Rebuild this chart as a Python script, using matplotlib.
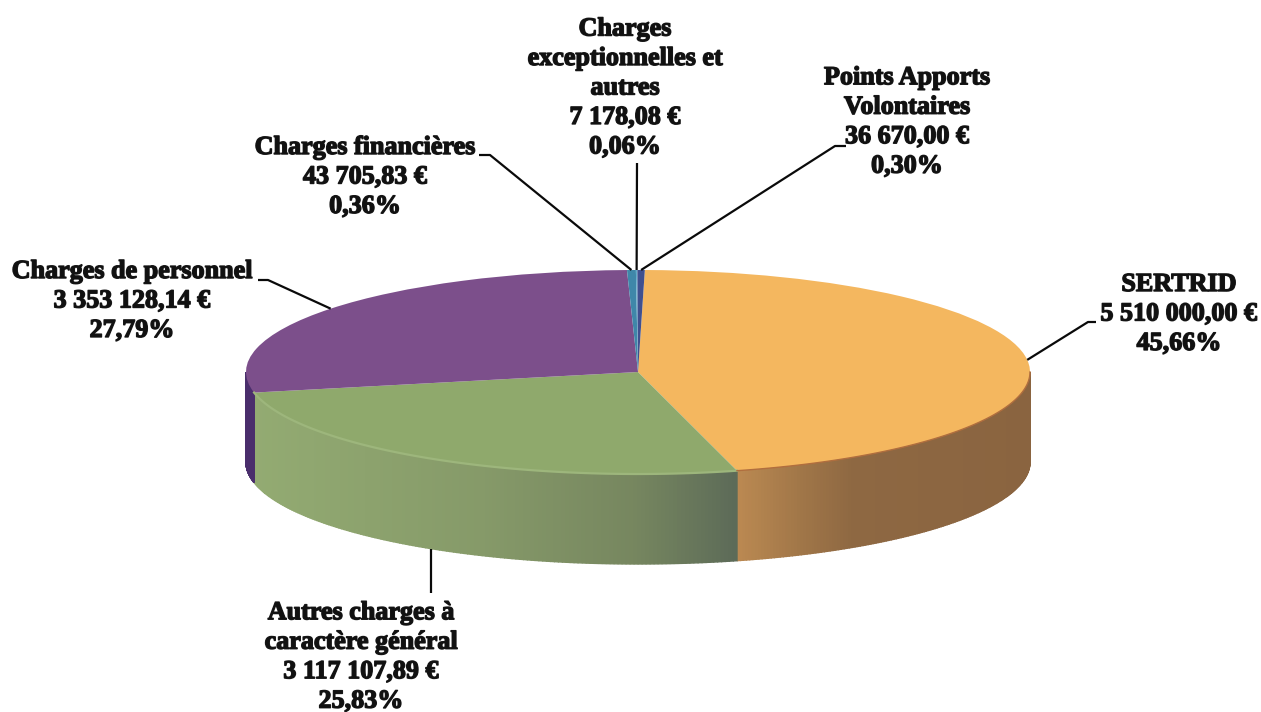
import numpy as np
import matplotlib
matplotlib.use("Agg")
import matplotlib.pyplot as plt
import matplotlib.patheffects as pe
from matplotlib.colors import to_rgb

W, H = 1261, 712

# ---- data ----
categories = ["SERTRID", "Autres charges à\ncaractère général", "Charges de personnel",
              "Charges financières", "Charges\nexceptionnelles et\nautres",
              "Points Apports\nVolontaires"]
values = [5510000.00, 3117107.89, 3353128.14, 43705.83, 7178.08, 36670.00]
value_labels = ["5 510 000,00 €", "3 117 107,89 €", "3 353 128,14 €",
                "43 705,83 €", "7 178,08 €", "36 670,00 €"]
pct_labels = ["45,66%", "25,83%", "27,79%", "0,36%", "0,06%", "0,30%"]

# ---- style ----
top_colors = ["#F4B75F", "#8FA96C", "#7C4F8B", "#3F87A9", "#62ABC9", "#40508F"]
# wall shading: (position across the pie from -1 to 1, colour)
wall_stops = {
    0: [(0.25, "#BC8A52"), (0.42, "#A07648"), (0.55, "#8E6842"), (1.0, "#8A6440")],
    1: [(-0.98, "#93AB72"), (-0.4, "#869A69"), (0.0, "#76865F"), (0.25, "#5D6B58")],
    2: [(-1.0, "#4A2E6C"), (-0.97, "#4A2E6C")],
}
CX, CY, RX, RY, DEPTH = 638, 372, 392, 102, 90
START = 89

fig = plt.figure(figsize=(W / 100, H / 100), dpi=100, facecolor="white")
ax = fig.add_axes([0, 0, 1, 1])
wedges, _ = ax.pie(values, colors=top_colors, startangle=START, counterclock=False,
                   radius=1, wedgeprops=dict(linewidth=0.4, edgecolor="none", zorder=3))
ax.set_aspect("auto")
ax.set_xlim(-CX / RX, (W - CX) / RX)
ax.set_ylim((CY - H) / RY, CY / RY)
ax.axis("off")
d = DEPTH / RY

# side walls, built from the same angular shares
shares = np.array(values) / np.sum(values) * 360
edges = START - np.concatenate([[0], np.cumsum(shares)])
for i, (a0, a1) in enumerate(zip(edges[:-1], edges[1:])):
    lo, hi = max(a1, -180), min(a0, 0)
    if hi <= lo or i not in wall_stops:
        continue
    stops = wall_stops[i]
    xs = [s[0] for s in stops]
    cs = np.array([to_rgb(s[1]) for s in stops])
    th = np.radians(np.linspace(lo, hi, 160))
    for t0, t1 in zip(th[:-1], th[1:]):
        x0, x1, y0, y1 = np.cos(t0), np.cos(t1), np.sin(t0), np.sin(t1)
        xm = (x0 + x1) / 2
        col = [np.interp(xm, xs, cs[:, k]) for k in range(3)]
        ax.fill([x0, x1, x1, x0], [y0, y1, y1 - d, y0 - d], facecolor=col,
                edgecolor=col, lw=1.0, zorder=1, antialiased=True)

# rim highlights on the top face
th = np.radians(np.linspace(edges[2], edges[1], 80))
ax.plot(np.cos(th), np.sin(th), color="#9DB67C", lw=1.6, zorder=4)
th = np.radians(np.linspace(edges[1], 0, 80))
ax.plot(np.cos(th), np.sin(th), color="#B06E3E", lw=1.0, zorder=4)

# ---- labels & leaders in pixel space ----
ov = fig.add_axes([0, 0, 1, 1], facecolor="none")
ov.set_xlim(0, W)
ov.set_ylim(H, 0)
ov.axis("off")

label_pos = [(1179, 314), (361, 657), (132, 301), (365, 177), (625, 88), (907, 122)]
elbows = [[(1088, 322), (1096, 322)], [(433, 593)], [(268, 280), (258, 280)],
          [(490, 155), (479, 155)], [(637, 163)], [(835, 146), (846, 146)]]
on_wall = [False, True, False, False, False, False]

mids = (edges[:-1] + edges[1:]) / 2
for i, name in enumerate(categories):
    txt = f"{name}\n{value_labels[i]}\n{pct_labels[i]}"
    ov.text(*label_pos[i], txt, ha="center", va="center", family="Liberation Serif",
            weight="bold", fontsize=18.8, linespacing=1.36, color="#111111",
            path_effects=[pe.withStroke(linewidth=1.0, foreground="#1A1A1A")])
    t = np.radians(mids[i])
    px = CX + RX * np.cos(t)
    py = CY - RY * np.sin(t) + (DEPTH if on_wall[i] else 0)
    pts = [(px, py)] + elbows[i]
    if on_wall[i]:
        pts = [(px, py), (px, elbows[i][0][1])]
    ov.plot([p[0] for p in pts], [p[1] for p in pts], color="#0A0A0A", lw=1.6,
            solid_capstyle="butt", zorder=5)

fig.savefig("out.png", dpi=100, facecolor="white")
